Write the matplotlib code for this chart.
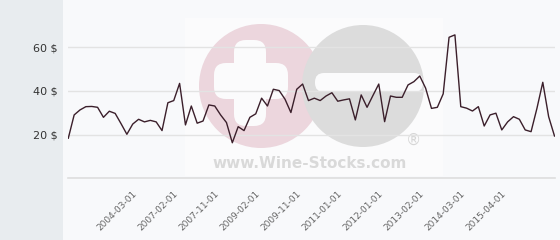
import matplotlib
matplotlib.use("Agg")
import matplotlib.pyplot as plt
from matplotlib.patches import Circle, FancyBboxPatch, Rectangle
import numpy as np

# prix moyen par vente (USD), une valeur par enchere
prices = [18.3, 29.0, 31.3, 32.8, 32.9, 32.5, 27.9, 30.7, 29.7, 25.0,
          20.1, 24.8, 27.0, 25.8, 26.5, 25.8, 21.8, 34.6, 35.6, 43.5,
          24.4, 33.1, 25.2, 26.2, 33.6, 33.1, 29.0, 25.5, 16.2, 23.6,
          21.8, 27.9, 29.5, 36.7, 33.1, 40.8, 40.2, 36.2, 30.1, 40.8,
          43.2, 35.6, 36.7, 35.6, 37.7, 39.2, 35.3, 35.9, 36.4, 26.7,
          38.2, 32.5, 37.9, 43.2, 25.9, 37.7, 37.1, 37.1, 42.8, 44.3,
          46.9, 41.3, 32.0, 32.5, 38.7, 64.7, 65.8, 32.8, 32.1, 30.8,
          32.8, 23.9, 29.0, 29.8, 22.1, 25.8, 28.2, 27.0, 22.1, 21.3,
          32.0, 44.0, 28.2, 19.3]
label_idx = [11, 18, 25, 32, 39, 46, 53, 60, 67, 74]
labels = ['2004-03-01', '2007-02-01', '2007-11-01', '2009-02-01', '2009-11-01',
          '2011-01-01', '2012-01-01', '2013-02-01', '2014-03-01', '2015-04-01']
yticks = [0, 20, 40, 60]

W, H = 560, 240
fig = plt.figure(figsize=(W / 100, H / 100), dpi=100)
fig.patch.set_facecolor('#e8ecef')

# fond blanc + filigrane, en pixels
bg = fig.add_axes([0, 0, 1, 1], zorder=0)
bg.set_xlim(0, W)
bg.set_ylim(H, 0)
bg.axis('off')
bg.add_patch(Rectangle((63, 0), W - 63, H, color='#f8f9fb', lw=0))
bg.add_patch(Rectangle((185, 18), 258, 158, color='#fbfbfc', lw=0))
bg.add_patch(Circle((261, 86), 62, color='#ecd6dd', lw=0))
bg.add_patch(FancyBboxPatch((234, 40), 32, 86, boxstyle='round,pad=0,rounding_size=12',
                            color='#fbfbfc', lw=0))
bg.add_patch(FancyBboxPatch((214, 63), 74, 36, boxstyle='round,pad=0,rounding_size=12',
                            color='#fbfbfc', lw=0))
bg.add_patch(Circle((363, 86), 61, color='#dcdcdc', lw=0))
bg.add_patch(FancyBboxPatch((315, 73), 108, 19, boxstyle='round,pad=0,rounding_size=9',
                            color='#fbfbfc', lw=0))
bg.text(310, 163, 'www.Wine-Stocks.com', fontsize=11, fontweight='bold',
        color='#d9d9d9', ha='center', va='center')
bg.text(413, 140, '®', fontsize=11, color='#d6d6d6', ha='center', va='center')

ax = fig.add_axes([68.3 / W, 62 / H, (554.5 - 68.3) / W, 174 / H], zorder=1)
ax.patch.set_alpha(0)
x = np.arange(len(prices))
ax.plot(x, prices, color='#3b1f2b', lw=1.0)
ax.set_xlim(0, len(prices) - 1)
ax.set_ylim(0, 80)

ax.set_yticks(yticks)
ax.set_yticklabels(['' if v == 0 else f'{v} $' for v in yticks])
ax.grid(axis='y', color='#e3e3e3', lw=1)
ax.axhline(0, color='#dedede', lw=1.2, clip_on=False)
ax.set_xticks(label_idx)
ax.set_xticklabels(labels, rotation=45, ha='right', rotation_mode='anchor')
for s in ax.spines.values():
    s.set_visible(False)
ax.tick_params(axis='y', length=0, pad=8, labelsize=8, labelcolor='#333333')
ax.tick_params(axis='x', length=0, pad=8, labelsize=6.5, labelcolor='#666666')

fig.savefig('out.png', dpi=100)
